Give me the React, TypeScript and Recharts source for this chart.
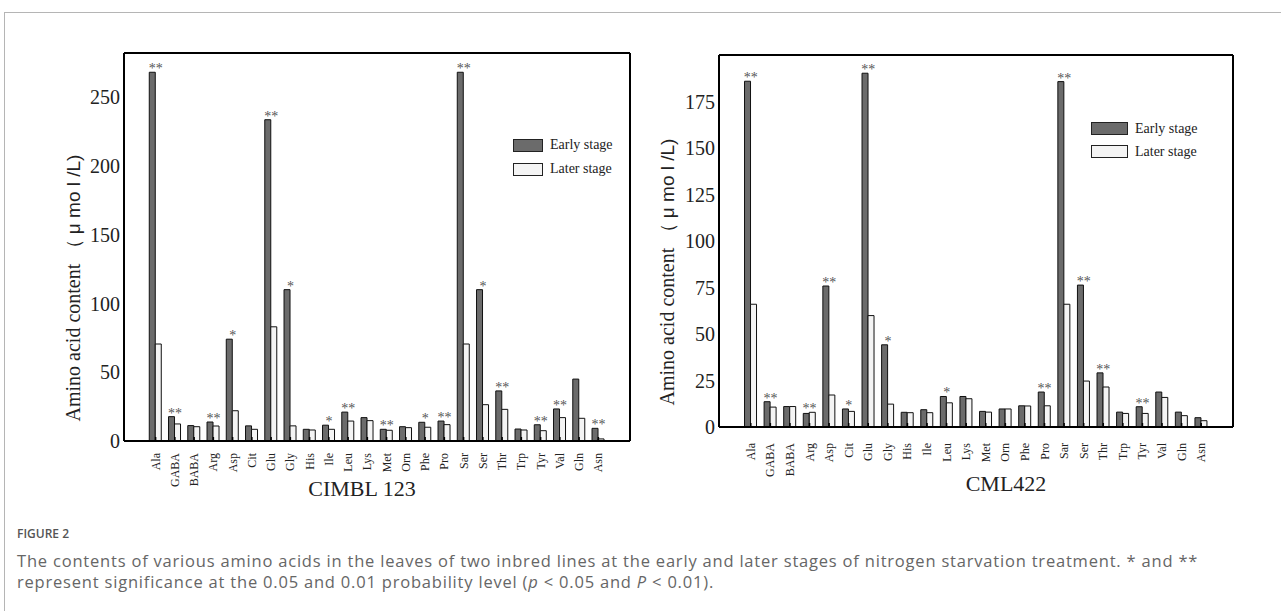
import React from "react";
import { ComposedChart, Bar, Line, XAxis, YAxis, LabelList, Legend } from "recharts";

const AMINO_ACIDS = [
  "Ala", "GABA", "BABA", "Arg", "Asp", "Cit", "Glu", "Gly", "His", "Ile", "Leu", "Lys",
  "Met", "Orn", "Phe", "Pro", "Sar", "Ser", "Thr", "Trp", "Tyr", "Val", "Gln", "Asn",
];

// CIMBL 123
const CIMBL_EARLY = [268, 17.7, 11.2, 13.8, 74, 11, 233.5, 110, 8.5, 11.5, 21, 17, 8.5, 10.4, 13.6, 14.5, 268, 110, 36.4, 8.7, 11.8, 23.3, 45, 9.2];
const CIMBL_LATER = [70.5, 12.4, 10.4, 10.9, 22, 8.5, 83, 11, 8, 8.5, 14.5, 14.8, 7.8, 9.7, 10, 11.9, 70.5, 26.4, 23, 8, 7.5, 17, 16.5, 1.5];
const CIMBL_SIG = ["**", "**", "", "**", "*", "", "**", "*", "", "*", "**", "", "**", "", "*", "**", "**", "*", "**", "", "**", "**", "", "**"];
const CIMBL_TICKS = [0, 50, 100, 150, 200, 250];

// CML422
const CML_EARLY = [185.9, 13.6, 11, 7.3, 75.8, 9.7, 190.2, 44.2, 7.9, 9.3, 16.4, 16.4, 8.4, 9.7, 11.4, 18.8, 185.7, 76.3, 29.1, 8, 10.9, 18.8, 8, 5];
const CML_LATER = [66, 10.7, 11, 7.9, 17.2, 8.4, 59.9, 12.3, 7.7, 7.7, 13, 15.2, 8, 9.7, 11.3, 11.4, 66, 24.7, 21.5, 7.3, 7.3, 15.9, 6.1, 3.4];
const CML_SIG = ["**", "**", "", "**", "**", "*", "**", "*", "", "", "*", "", "", "", "", "**", "**", "**", "**", "", "**", "", "", ""];
const CML_TICKS = [0, 25, 50, 75, 100, 125, 150, 175];

const SERIES = ["Early stage", "Later stage"];
const EARLY_FILL = "#6b6b6b";
const LATER_FILL = "#f4f4f4";

const SERIF = '"Liberation Serif", "Times New Roman", serif';
const SANS = '"Liberation Sans", Arial, sans-serif';

const makeTick = (offset: number) => (props: any) => {
  const { x, y, payload } = props;
  return (
    <g>
      <line x1={x} x2={x} y1={y} y2={y - 4} stroke="#000" strokeWidth={1.5} />
      <text
        transform={`translate(${x},${y + offset}) rotate(-90)`}
        textAnchor="end"
        dominantBaseline="central"
        fontFamily={SERIF}
        fontSize={12}
        fill="#222"
      >
        {payload.value}
      </text>
    </g>
  );
};

const StarLabel = (props: any) => {
  const { x, y, value } = props;
  if (!value) return null;
  return (
    <text x={x} y={y + 1} textAnchor="middle" fontFamily={SERIF} fontSize={14} fill="#555">
      {value}
    </text>
  );
};

interface PanelProps {
  left: number;
  width: number;
  height: number;
  marginTop: number;
  marginRight: number;
  yWidth: number;
  xHeight: number;
  tickOffset: number;
  early: number[];
  later: number[];
  sig: string[];
  yMax: number;
  ticks: number[];
  title: string;
  titlePos: [number, number];
  yLabelPos: [number, number];
  legendPos: [number, number];
  legendBox: number;
  legendGap: number;
  pad: number;
  gap: string;
}

const Panel: React.FC<PanelProps> = (p) => {
  const data = AMINO_ACIDS.map((name, i) => ({
    name,
    early: p.early[i],
    later: p.later[i],
    top: Math.max(p.early[i], p.later[i]),
    sig: p.sig[i],
  }));
  const Tick = makeTick(p.tickOffset);

  const legend = () => (
    <div style={{ fontFamily: SERIF, fontSize: 14, color: "#222" }}>
      {SERIES.map((s, i) => (
        <div key={s} style={{ display: "flex", alignItems: "center", height: p.legendGap }}>
          <span
            style={{
              display: "inline-block",
              width: p.legendBox,
              height: 11,
              border: "1.5px solid #222",
              background: i === 0 ? EARLY_FILL : LATER_FILL,
            }}
          />
          <span style={{ marginLeft: 7 }}>{s}</span>
        </div>
      ))}
    </div>
  );

  return (
    <div style={{ position: "absolute", left: p.left, top: 40 }}>
      <ComposedChart
        width={p.width}
        height={p.height}
        data={data}
        margin={{ top: p.marginTop - 1, right: p.marginRight - 1, bottom: 0, left: 0 }}
        barCategoryGap={p.gap}
        barGap={0}
      >
        <XAxis
          dataKey="name"
          interval={0}
          height={p.xHeight}
          padding={{ left: p.pad, right: p.pad }}
          tickSize={0}
          tickMargin={0}
          tickLine={false}
          tick={<Tick />}
          axisLine={{ stroke: "#000", strokeWidth: 2 }}
          label={{
            content: () => (
              <text
                x={p.titlePos[0]}
                y={p.titlePos[1]}
                textAnchor="middle"
                dominantBaseline="central"
                fontFamily={SERIF}
                fontSize={22}
                fill="#222"
              >
                {p.title}
              </text>
            ),
          }}
        />
        <XAxis
          xAxisId="frame"
          orientation="top"
          dataKey="name"
          interval={0}
          height={1}
          padding={{ left: p.pad, right: p.pad }}
          tick={false}
          tickLine={false}
          axisLine={{ stroke: "#000", strokeWidth: 2 }}
        />
        <YAxis
          width={p.yWidth}
          domain={[0, p.yMax]}
          ticks={p.ticks}
          tickSize={0}
          tickMargin={4}
          tickLine={false}
          axisLine={{ stroke: "#000", strokeWidth: 2 }}
          tick={{ fontFamily: SERIF, fontSize: 20, fill: "#222" }}
          label={{
            content: () => (
              <text
                transform={`translate(${p.yLabelPos[0]},${p.yLabelPos[1]}) rotate(-90)`}
                textAnchor="middle"
                dominantBaseline="central"
                fontFamily={SERIF}
                fontSize={20}
                fill="#222"
              >
                Amino acid content
                <tspan fontFamily={SANS} fontSize={19}>{" （ μ mo l /L)"}</tspan>
              </text>
            ),
          }}
        />
        <YAxis
          yAxisId="frame"
          orientation="right"
          width={1}
          domain={[0, p.yMax]}
          tick={false}
          tickLine={false}
          axisLine={{ stroke: "#000", strokeWidth: 2 }}
        />
        <Legend
          layout="horizontal"
          verticalAlign="middle"
          align="center"
          content={legend}
          wrapperStyle={{ left: p.legendPos[0], top: p.legendPos[1], width: "auto" }}
        />
        <Bar dataKey="early" name={SERIES[0]} fill={EARLY_FILL} stroke="#111" strokeWidth={1} isAnimationActive={false} />
        <Bar dataKey="later" name={SERIES[1]} fill={LATER_FILL} stroke="#111" strokeWidth={1} isAnimationActive={false} />
        <Line
          xAxisId="frame"
          yAxisId="frame"
          dataKey="top"
          stroke="none"
          dot={false}
          activeDot={false}
          legendType="none"
          isAnimationActive={false}
        >
          <LabelList dataKey="sig" content={<StarLabel />} />
        </Line>
      </ComposedChart>
    </div>
  );
};

export default function App() {
  return (
    <div style={{ position: "absolute", left: 0, top: 0, width: 1281, height: 611, background: "#fff", overflow: "hidden" }}>
      <div
        style={{
          position: "absolute",
          left: 4,
          top: 12,
          width: 1290,
          height: 620,
          borderTop: "1px solid #b5b5b5",
          borderLeft: "1px solid #b5b5b5",
        }}
      />
      <Panel
        left={40}
        width={600}
        height={470}
        marginTop={13}
        marginRight={10}
        yWidth={84}
        xHeight={69}
        tickOffset={12}
        early={CIMBL_EARLY}
        later={CIMBL_LATER}
        sig={CIMBL_SIG}
        yMax={282}
        ticks={CIMBL_TICKS}
        title="CIMBL 123"
        titlePos={[322, 448]}
        yLabelPos={[33, 248]}
        legendPos={[473, 93]}
        legendBox={28}
        legendGap={24}
        pad={22}
        gap="17%"
      />
      <Panel
        left={620}
        width={630}
        height={470}
        marginTop={15}
        marginRight={17}
        yWidth={99}
        xHeight={83}
        tickOffset={16}
        early={CML_EARLY}
        later={CML_LATER}
        sig={CML_SIG}
        yMax={200}
        ticks={CML_TICKS}
        title="CML422"
        titlePos={[386, 443]}
        yLabelPos={[47, 232]}
        legendPos={[471, 77]}
        legendBox={35}
        legendGap={23}
        pad={22}
        gap="18%"
      />
      <div
        style={{
          position: "absolute",
          left: 17,
          top: 525,
          fontFamily: '"Open Sans", sans-serif',
          fontWeight: 600,
          fontSize: 12,
          color: "#555",
        }}
      >
        FIGURE 2
      </div>
      <div
        style={{
          position: "absolute",
          left: 17,
          top: 550,
          width: 1250,
          fontFamily: '"Open Sans", sans-serif',
          fontSize: 16.5,
          letterSpacing: 0.8,
          lineHeight: "21px",
          color: "#666",
          whiteSpace: "nowrap",
        }}
      >
        The contents of various amino acids in the leaves of two inbred lines at the early and later stages of nitrogen starvation treatment. * and **
        <br />
        represent significance at the 0.05 and 0.01 probability level (<i>p</i> &lt; 0.05 and <i>P</i> &lt; 0.01).
      </div>
    </div>
  );
}
